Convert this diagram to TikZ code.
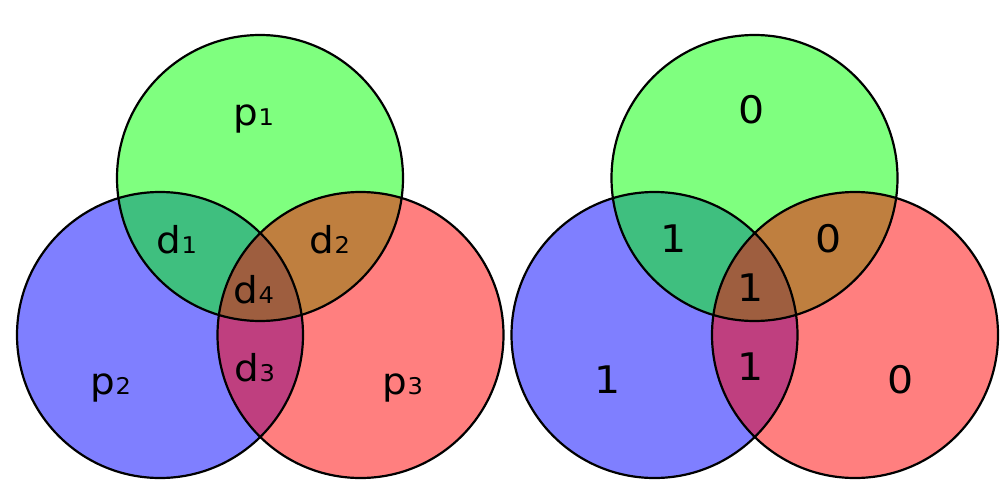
\documentclass[tikz,border=0pt]{standalone}
\usepackage{fontspec}
\setmainfont{DejaVu Sans}
\newcommand\sublab[2]{{\fontsize{37}{37}\selectfont #1{\fontsize{23}{23}\selectfont #2}}}
\begin{document}
\begin{tikzpicture}[x=1pt,y=-1pt,
  ring/.style={draw=black,line width=2.2pt},
  bluefill/.style={fill={rgb,255:red,0;green,0;blue,255},fill opacity=0.5},
  greenfill/.style={fill={rgb,255:red,0;green,255;blue,0},fill opacity=0.5},
  redfill/.style={fill={rgb,255:red,255;green,0;blue,0},fill opacity=0.5},
  lab/.style={anchor=base,inner sep=0pt,xscale=1.05,transform shape},
  num/.style={anchor=base,inner sep=0pt,xscale=1.08,transform shape,font=\fontsize{38}{38}\selectfont}]
\useasboundingbox (0,0) rectangle (1000,500);
% left diagram
\fill[bluefill] (160,335) circle (143);
\fill[greenfill] (260,178) circle (143);
\fill[redfill] (360.5,335) circle (143);
\draw[ring] (160,335) circle (143);
\draw[ring] (260,178) circle (143);
\draw[ring] (360.5,335) circle (143);
% right diagram
\fill[bluefill] (654.5,335) circle (143);
\fill[greenfill] (754.5,178) circle (143);
\fill[redfill] (855,335) circle (143);
\draw[ring] (654.5,335) circle (143);
\draw[ring] (754.5,178) circle (143);
\draw[ring] (855,335) circle (143);
% left labels
\node[lab] (p1) at (254,125) {\sublab{p}{1}};
\node[lab] (d1) at (177,253) {\sublab{d}{1}};
\node[lab] (d2) at (330,253) {\sublab{d}{2}};
\node[lab] (d4) at (254,303) {\sublab{d}{4}};
\node[lab] (d3) at (255,381) {\sublab{d}{3}};
\node[lab] (p2) at (111,394) {\sublab{p}{2}};
\node[lab] (p3) at (403,394) {\sublab{p}{3}};
% right labels
\node[num] (r1) at (752,124) {0};
\node[num] (r2) at (674,252) {1};
\node[num] (r3) at (829,252) {0};
\node[num] (r4) at (751,301) {1};
\node[num] (r5) at (751,380) {1};
\node[num] (r6) at (608,393) {1};
\node[num] (r7) at (901,393) {0};
\end{tikzpicture}
\end{document}
